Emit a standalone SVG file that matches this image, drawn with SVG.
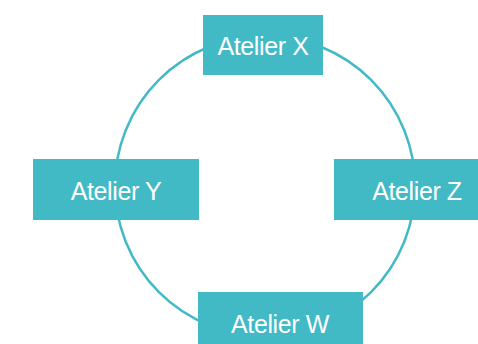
<svg xmlns="http://www.w3.org/2000/svg" width="478" height="344" viewBox="0 0 478 344">
<style>
.box{fill:#42BAC6;}
.lbl{fill:#FFFFFF;font-family:"Liberation Sans",Arial,sans-serif;font-size:25px;text-anchor:middle;letter-spacing:-0.4px;}
.con{fill:none;stroke:#42BAC6;stroke-width:2.5;}
</style>
<rect width="478" height="344" fill="#FFFFFF"/>
<g id="connectors">
<path class="con" d="M265,36 A150,150 0 0 0 115,186"/>
<path class="con" d="M115,186 A150,150 0 0 0 265,336"/>
<path class="con" d="M265,336 A150,150 0 0 0 415,186"/>
<path class="con" d="M415,186 A150,150 0 0 0 265,36"/>
</g>
<g id="atelier-x">
<rect class="box" x="203" y="15" width="120" height="60"/>
<text class="lbl" x="263" y="55">Atelier X</text>
</g>
<g id="atelier-y">
<rect class="box" x="33" y="159" width="166" height="61"/>
<text class="lbl" x="116" y="200">Atelier Y</text>
</g>
<g id="atelier-z">
<rect class="box" x="334" y="159" width="166" height="61"/>
<text class="lbl" x="417" y="200">Atelier Z</text>
</g>
<g id="atelier-w">
<rect class="box" x="198" y="292" width="165" height="61"/>
<text class="lbl" x="280" y="333">Atelier W</text>
</g>
</svg>
